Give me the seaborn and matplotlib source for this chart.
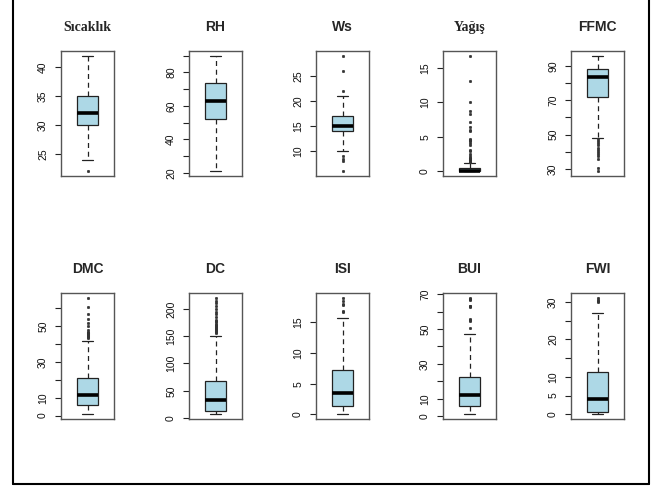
import numpy as np
import pandas as pd
import matplotlib
matplotlib.use("Agg")
import matplotlib.pyplot as plt
from matplotlib.lines import Line2D
import seaborn as sns

# Panel titles (Algerian forest fires variables)
titles = ["Sıcaklık", "RH", "Ws", "Yağış", "FFMC",
          "DMC", "DC", "ISI", "BUI", "FWI"]

# Box statistics
whis_lo = [24, 21, 10, 0, 48, 0.7, 6.9, 0, 1.1, 0]
q1 = [30, 52, 14, 0, 72.1, 5.8, 13.3, 1.4, 6.0, 0.7]
median = [32, 63, 15, 0, 83.4, 11.3, 33.1, 3.5, 12.3, 4.2]
q3 = [35, 73.5, 17, 0.5, 88.3, 20.8, 68.2, 7.3, 22.5, 11.4]
whis_hi = [42, 90, 21, 1.2, 96, 41.5, 150, 15.7, 47, 26.9]

# Outlying points
fliers = [
    [22],
    [],
    [6, 8, 8.5, 9, 22, 26, 29],
    [1.3, 1.4, 1.6, 1.7, 1.8, 1.9, 2.0, 2.2, 2.5, 2.9, 3.1, 3.8, 4.1, 4.4,
     4.5, 4.6, 4.7, 5.8, 6.0, 6.5, 7.2, 8.3, 8.7, 10.1, 13.1, 16.8],
    [28.6, 30.5, 36, 37.5, 38.5, 40, 41, 42.5, 44, 45, 46, 47.2],
    [43.5, 44, 44.5, 45, 45.5, 46, 46.5, 47, 48, 50, 52, 54, 57, 61, 66],
    [155, 157, 159, 161, 163, 165, 167, 169, 171, 173, 175, 177, 180,
     185, 190, 195, 200, 205, 210, 215, 220.4],
    [16.6, 16.8, 17.8, 18.0, 18.5, 19.0],
    [50.5, 54.7, 55.3, 55.9, 62.4, 63.0, 63.5, 66.5, 67.0, 67.5, 68.0],
    [30.0, 30.2, 30.5, 31.1],
]

# y ticks and the labels R kept (others dropped for overlap)
yticks = [
    [25, 30, 35, 40],
    [20, 30, 40, 50, 60, 70, 80, 90],
    [10, 15, 20, 25],
    [0, 5, 10, 15],
    [30, 40, 50, 60, 70, 80, 90],
    [0, 10, 20, 30, 40, 50, 60],
    [0, 50, 100, 150, 200],
    [0, 5, 10, 15],
    [0, 10, 20, 30, 40, 50, 60, 70],
    [0, 5, 10, 15, 20, 25, 30],
]
ylabels = [
    ["25", "30", "35", "40"],
    ["20", "", "40", "", "60", "", "80", ""],
    ["10", "15", "20", "25"],
    ["0", "5", "10", "15"],
    ["30", "", "50", "", "70", "", "90"],
    ["0", "10", "", "30", "", "50", ""],
    ["0", "50", "100", "150", "200"],
    ["0", "5", "10", "15"],
    ["0", "10", "", "30", "", "50", "", "70"],
    ["0", "5", "10", "", "20", "", "30"],
]

# sample that reproduces the read quartiles / whiskers / outliers
rows = []
for i, name in enumerate(titles):
    vals = ([whis_lo[i]] + [q1[i]] * 60 + [median[i]] * 60 + [q3[i]] * 60
            + [whis_hi[i]] + fliers[i])
    rows += [(name, v) for v in vals]
df = pd.DataFrame(rows, columns=["var", "value"])

sns.set_style("white")
plt.rcParams["font.family"] = ["Liberation Sans", "DejaVu Sans"]

fig = plt.figure(figsize=(6.56, 4.86), dpi=100)
W, H = 656, 486
lefts = [61, 189, 316, 443, 571]
row_tb = [(51, 176), (293, 419)]

for i, name in enumerate(titles):
    r, c = divmod(i, 5)
    top, bot = row_tb[r]
    ax = fig.add_axes([lefts[c] / W, 1 - bot / H, 53 / W, (bot - top) / H])
    sub = df[df["var"] == name]
    sns.boxplot(y=sub["value"], ax=ax, width=0.38, color="#ADD8E6",
                saturation=1, linecolor="#222222", linewidth=0.9,
                whiskerprops={"linestyle": (0, (4, 3))},
                medianprops={"linewidth": 2.6, "color": "black"},
                flierprops={"marker": "o", "markersize": 1.7,
                            "markerfacecolor": "#333333",
                            "markeredgecolor": "#333333",
                            "markeredgewidth": 0.5})
    lo, hi = sub["value"].min(), sub["value"].max()
    span = hi - lo
    ax.set_ylim(lo - 0.04 * span, hi + 0.04 * span)
    ax.set_xlim(-0.5, 0.5)
    ax.set_xticks([])
    ax.set_ylabel("")
    ax.set_xlabel("")
    ax.set_yticks(yticks[i])
    ax.set_yticklabels(ylabels[i])
    ax.tick_params(axis="y", left=True, length=4.3, width=0.8, pad=5,
                   labelsize=7.5, labelrotation=90, color="#222222",
                   labelcolor="#111111")
    for lab in ax.get_yticklabels():
        lab.set_va("center")
    for sp in ax.spines.values():
        sp.set_color("#555555")
        sp.set_linewidth(1.0)
    fam = ["Liberation Serif"] if name in ("Sıcaklık", "Yağış") else ["Liberation Sans"]
    ax.set_title(name, fontsize=10, fontweight="bold", family=fam, pad=14.5)

# page frame (left, right, bottom)
fig.add_artist(Line2D([12.8 / W, 12.8 / W], [1, 1 - 484.3 / H], color="black", lw=1.5))
fig.add_artist(Line2D([648.7 / W, 648.7 / W], [1, 1 - 484.3 / H], color="black", lw=1.5))
fig.add_artist(Line2D([12.8 / W, 648.7 / W], [1 - 484.3 / H, 1 - 484.3 / H], color="black", lw=1.5))

fig.savefig("out.png", dpi=100)
